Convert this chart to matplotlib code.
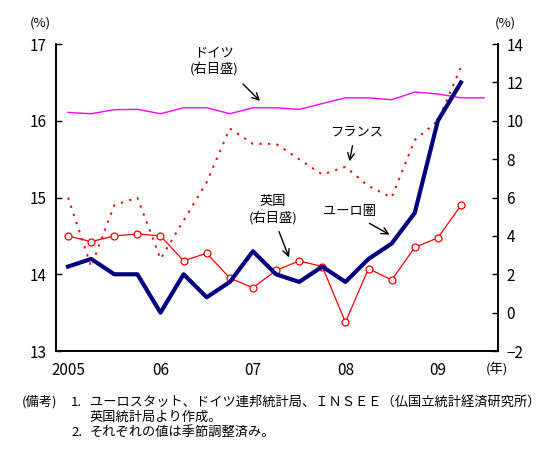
import matplotlib
matplotlib.use('Agg')
import matplotlib.pyplot as plt
import numpy as np

plt.rcParams['font.family'] = ['Noto Sans CJK JP', 'DejaVu Sans']

# quarterly data, 2005Q1 onwards
euro = [14.1, 14.2, 14.0, 14.0, 13.5, 14.0, 13.7, 13.9, 14.3, 14.0,
        13.9, 14.1, 13.9, 14.2, 14.4, 14.8, 16.0, 16.5]
france = [15.0, 14.1, 14.9, 15.0, 14.2, 14.7, 15.2, 15.9, 15.7, 15.7,
          15.5, 15.3, 15.4, 15.15, 15.0, 15.75, 16.0, 16.7]
uk = [4.0, 3.7, 4.0, 4.1, 4.0, 2.7, 3.1, 1.8, 1.3, 2.2,
      2.7, 2.4, -0.5, 2.3, 1.7, 3.4, 3.9, 5.6]
germany = [10.44, 10.37, 10.58, 10.6, 10.37, 10.68, 10.68, 10.37, 10.68, 10.68,
           10.6, 10.9, 11.2, 11.2, 11.1, 11.5, 11.4, 11.2, 11.2]
year_ticks = [0, 4, 8, 12, 16]
year_labels = ['2005', '06', '07', '08', '09']

fig = plt.figure(figsize=(5.59, 4.5), dpi=100)
ax = fig.add_axes([0.1002, 0.22, 0.7906, 0.682])
ax2 = ax.twinx()

x18 = np.arange(len(euro))
x19 = np.arange(len(germany))

ax.plot(x18, euro, color='#000080', lw=3, zorder=3)
ax.plot(x18, france, color='#FF0000', lw=1.4, ls=(0, (1.2, 3.2)), zorder=2)
ax2.plot(x19, germany, color='#FF00FF', lw=1)
ax2.plot(x18, uk, color='#FF0000', lw=0.9, marker='o', ms=5,
         mfc='white', mec='#FF0000', mew=0.9)

ax.set_zorder(ax2.get_zorder() + 1)
ax.patch.set_visible(False)

ax.set_xlim(-0.52, 18.6)
ax.set_ylim(13, 17)
ax.set_yticks([13, 14, 15, 16, 17])
ax2.set_ylim(-2, 14)
ax2.set_yticks(range(-2, 15, 2))
ax.set_xticks(year_ticks)
ax.set_xticklabels(year_labels)

for a in (ax, ax2):
    a.spines['top'].set_visible(False)
    a.tick_params(axis='y', direction='in', length=4, labelsize=11, width=1)
    for s in a.spines.values():
        s.set_linewidth(1.2)
ax.tick_params(axis='x', length=0, labelsize=11, pad=8)
ax.tick_params(axis='y', pad=7)
ax2.tick_params(axis='y', pad=6)

fig.text(40 / 559, 1 - 23 / 450, '(%)', ha='center', va='center', fontsize=9.5)
fig.text(505 / 559, 1 - 23 / 450, '(%)', ha='center', va='center', fontsize=9.5)
fig.text(497 / 559, 1 - 370 / 450, '(年)', ha='center', va='center', fontsize=9.5)

def note(text, tx, ty, ax0, ay0, ax1, ay1):
    fig.text(tx / 559, 1 - ty / 450, text, ha='center', va='center',
             fontsize=9.5, linespacing=1.2)
    fig.add_artist(matplotlib.patches.FancyArrowPatch(
        (ax0 / 559, 1 - ay0 / 450), (ax1 / 559, 1 - ay1 / 450),
        transform=fig.transFigure, arrowstyle='->', mutation_scale=12,
        lw=1, color='black'))

note('ドイツ\n(右目盛)', 214, 61, 241, 82, 262, 103)
note('フランス', 357, 132, 353, 143, 349, 164)
note('英国\n(右目盛)', 273, 210, 278, 229, 290, 260)
note('ユーロ圏', 350, 211, 367, 222, 392, 236)

fs = 9.5
fig.text(22 / 559, 1 - 402 / 450, '(備考)', ha='left', va='center', fontsize=fs)
fig.text(71 / 559, 1 - 402 / 450, '1.', ha='left', va='center', fontsize=fs)
fig.text(90 / 559, 1 - 402 / 450,
         'ユーロスタット、ドイツ連邦統計局、ＩＮＳＥＥ（仏国立統計経済研究所）',
         ha='left', va='center', fontsize=fs)
fig.text(90 / 559, 1 - 417 / 450, '英国統計局より作成。', ha='left', va='center', fontsize=fs)
fig.text(71 / 559, 1 - 432 / 450, '2.', ha='left', va='center', fontsize=fs)
fig.text(90 / 559, 1 - 432 / 450, 'それぞれの値は季節調整済み。', ha='left', va='center', fontsize=fs)

fig.savefig('out.png', dpi=100)
